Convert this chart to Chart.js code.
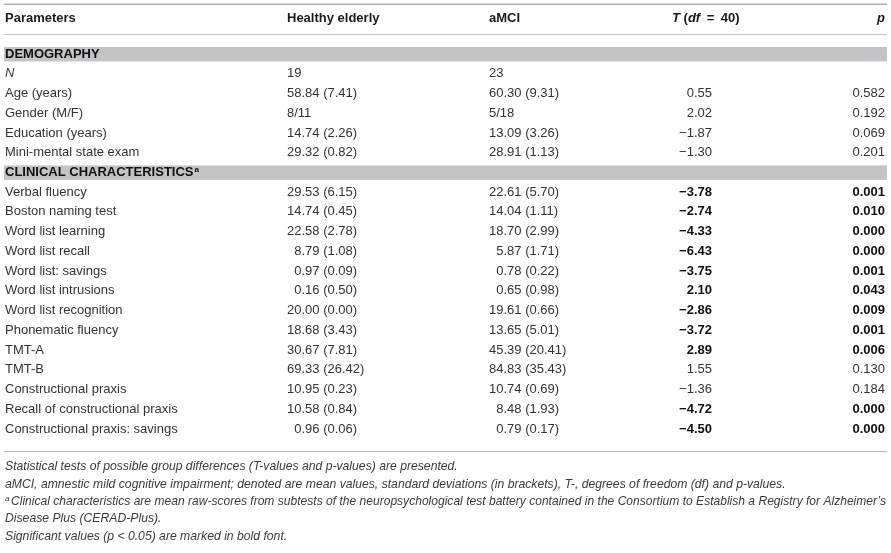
<!DOCTYPE html>
<html>
<head>
<meta charset="utf-8">
<script src="https://cdn.jsdelivr.net/npm/chart.js@4.4.1/dist/chart.umd.min.js"></script>
<style>
  html, body { margin: 0; padding: 0; background: #fff; }
  #wrap { width: 891px; height: 553px; }
</style>
</head>
<body>
<div id="wrap"><canvas id="tableChart" width="891" height="553"></canvas></div>
<script>
// Table content, one entry per body row (section rows have empty cells)
const rowLabels = [
  'DEMOGRAPHY', 'N', 'Age (years)', 'Gender (M/F)', 'Education (years)', 'Mini-mental state exam',
  'CLINICAL CHARACTERISTICS', 'Verbal fluency', 'Boston naming test', 'Word list learning',
  'Word list recall', 'Word list: savings', 'Word list intrusions', 'Word list recognition',
  'Phonematic fluency', 'TMT-A', 'TMT-B', 'Constructional praxis',
  'Recall of constructional praxis', 'Constructional praxis: savings'
];
const sectionRows = ['DEMOGRAPHY', 'CLINICAL CHARACTERISTICS'];
const healthyElderly = [
  '', '19', '58.84 (7.41)', '8/11', '14.74 (2.26)', '29.32 (0.82)',
  '', '29.53 (6.15)', '14.74 (0.45)', '22.58 (2.78)', '8.79 (1.08)', '0.97 (0.09)',
  '0.16 (0.50)', '20.00 (0.00)', '18.68 (3.43)', '30.67 (7.81)', '69.33 (26.42)',
  '10.95 (0.23)', '10.58 (0.84)', '0.96 (0.06)'
];
const amci = [
  '', '23', '60.30 (9.31)', '5/18', '13.09 (3.26)', '28.91 (1.13)',
  '', '22.61 (5.70)', '14.04 (1.11)', '18.70 (2.99)', '5.87 (1.71)', '0.78 (0.22)',
  '0.65 (0.98)', '19.61 (0.66)', '13.65 (5.01)', '45.39 (20.41)', '84.83 (35.43)',
  '10.74 (0.69)', '8.48 (1.93)', '0.79 (0.17)'
];
const tValues = [
  null, null, 0.55, 2.02, -1.87, -1.30,
  null, -3.78, -2.74, -4.33, -6.43, -3.75, 2.10, -2.86, -3.72, 2.89, 1.55, -1.36, -4.72, -4.50
];
const pValues = [
  null, null, 0.582, 0.192, 0.069, 0.201,
  null, 0.001, 0.010, 0.000, 0.000, 0.001, 0.043, 0.009, 0.001, 0.006, 0.130, 0.184, 0.000, 0.000
];
const footnotes = [
  'Statistical tests of possible group differences (T-values and p-values) are presented.',
  'aMCI, amnestic mild cognitive impairment; denoted are mean values, standard deviations (in brackets), T-, degrees of freedom (df) and p-values.',
  'Clinical characteristics are mean raw-scores from subtests of the neuropsychological test battery contained in the Consortium to Establish a Registry for Alzheimer\u2019s',
  'Disease Plus (CERAD-Plus).',
  'Significant values (p < 0.05) are marked in bold font.'
];

// layout
const FONT = '"Liberation Sans", Arial, sans-serif';
const TEXT = '#333';
const colX = { label: 5, healthy: 287, amci: 489, t: 712, p: 885, tHead: 672 };
const headerY = -1.82;       // header row, in row units
const footY = [20.92, 21.81, 22.7, 23.56, 24.44];

const cells = (arr, x) => arr.map((v, i) => ({ x: x, y: i, v: v })).filter(d => d.v !== '' && d.v !== null);

const fmt = v => (v < 0 ? '\u2212' : '') + Math.abs(v).toFixed(2);

const tablePlugin = {
  id: 'tableText',
  afterDatasetsDraw(chart) {
    const ctx = chart.ctx;
    const xs = chart.scales.x, ys = chart.scales.y;
    const L = 4, R = 887;
    ctx.save();
    ctx.textBaseline = 'middle';

    const runs = (parts, x, y, align) => {
      let w = 0;
      parts.forEach(p => { ctx.font = p[1]; w += ctx.measureText(p[0]).width; });
      let cx = align === 'right' ? x - w : x;
      parts.forEach(p => {
        ctx.font = p[1];
        ctx.fillStyle = p[2] || TEXT;
        ctx.textAlign = 'left';
        ctx.fillText(p[0], cx, y);
        cx += ctx.measureText(p[0]).width;
      });
    };

    // rules
    const hy = ys.getPixelForValue(headerY);
    ctx.fillStyle = '#b0b0b0';
    ctx.fillRect(L, hy - 14.5, R - L, 1.5);
    ctx.fillStyle = '#c4c4c4';
    ctx.fillRect(L, hy + 16, R - L, 1);
    const lastY = ys.getPixelForValue(rowLabels.length - 1);
    ctx.fillStyle = '#bdbdbd';
    ctx.fillRect(L, lastY + 22, R - L, 1);

    // header
    const B = 'bold 13px ' + FONT, BI = 'italic bold 13px ' + FONT, HC = '#1a1a1a';
    runs([['Parameters', B, HC]], xs.getPixelForValue(colX.label), hy);
    runs([['Healthy elderly', B, HC]], xs.getPixelForValue(colX.healthy), hy);
    runs([['aMCI', B, HC]], xs.getPixelForValue(colX.amci), hy);
    runs([['T', BI, HC], [' (', B, HC], ['df', BI, HC], ['\u2002=\u2002', B, HC], ['40)', B, HC]],
      xs.getPixelForValue(colX.tHead), hy);
    runs([['p', BI, HC]], xs.getPixelForValue(colX.p), hy, 'right');

    // body from the dataset points
    chart.data.datasets.forEach((ds, di) => {
      const meta = chart.getDatasetMeta(di);
      meta.data.forEach((pt, i) => {
        const d = ds.data[i];
        const label = rowLabels[d.y];
        if (ds.kind === 'label') {
          if (sectionRows.includes(label)) {
            ctx.fillStyle = '#c3c4c7';
            ctx.fillRect(L, pt.y - 7, R - L, 14.5);
            runs([[label, 'bold 13px ' + FONT, '#111']], pt.x, pt.y + 0.5);
            if (label === 'CLINICAL CHARACTERISTICS') {
              ctx.font = 'bold 13px ' + FONT;
              const w = ctx.measureText(label).width;
              runs([['a', 'bold 8px ' + FONT, '#111']], pt.x + w + 1, pt.y - 3);
            }
          } else if (label === 'N') {
            runs([[label, 'italic 13px ' + FONT]], pt.x, pt.y);
          } else {
            runs([[label, '13px ' + FONT]], pt.x, pt.y);
          }
        } else if (ds.kind === 'group') {
          const s = d.v;
          ctx.font = '13px ' + FONT;
          if (s.indexOf('(') >= 0) {
            // align on the decimal point of the mean
            const dec = pt.x + ctx.measureText('00').width;
            const intPart = s.split('.')[0];
            runs([[s, '13px ' + FONT]], dec - ctx.measureText(intPart).width, pt.y);
          } else {
            runs([[s, '13px ' + FONT]], pt.x, pt.y);
          }
        } else if (ds.kind === 't') {
          const sig = pValues[d.y] < 0.05 && d.y > 6;
          runs([[fmt(d.v), (sig ? 'bold ' : '') + '13px ' + FONT, sig ? '#111' : TEXT]], pt.x, pt.y, 'right');
        } else if (ds.kind === 'p') {
          const sig = d.v < 0.05;
          runs([[d.v.toFixed(3), (sig ? 'bold ' : '') + '13px ' + FONT, sig ? '#111' : TEXT]], pt.x, pt.y, 'right');
        }
      });
    });

    // footnotes
    const I = 'italic 12.2px ' + FONT;
    const fx = xs.getPixelForValue(colX.label);
    footnotes.forEach((f, i) => {
      const y = ys.getPixelForValue(footY[i]);
      ctx.font = I;
      ctx.fillStyle = '#3a3a3a';
      ctx.textAlign = 'left';
      if (i === 2) {
        ctx.font = 'italic 8px ' + FONT;
        ctx.fillText('a', fx, y - 3);
        ctx.font = I;
        ctx.fillText(f, fx + 6, y, R - 1 - fx - 6);
      } else {
        ctx.fillText(f, fx, y);
      }
    });
    ctx.restore();
  }
};

const labelData = rowLabels.map((l, i) => ({ x: colX.label, y: i, v: l }));

new Chart(document.getElementById('tableChart'), {
  type: 'scatter',
  data: {
    datasets: [
      { kind: 'label', data: labelData, pointRadius: 0 },
      { kind: 'group', data: cells(healthyElderly, colX.healthy), pointRadius: 0 },
      { kind: 'group', data: cells(amci, colX.amci), pointRadius: 0 },
      { kind: 't', data: cells(tValues, colX.t), pointRadius: 0 },
      { kind: 'p', data: cells(pValues, colX.p), pointRadius: 0 }
    ]
  },
  options: {
    responsive: false,
    animation: false,
    layout: { padding: { top: 44.1, bottom: 114.1, left: 0, right: 0 } },
    plugins: { legend: { display: false }, tooltip: { enabled: false } },
    scales: {
      x: { type: 'linear', min: 0, max: 891, display: false },
      y: { type: 'linear', min: -0.5, max: 19.5, reverse: true, display: false }
    }
  },
  plugins: [tablePlugin]
});
</script>
</body>
</html>
